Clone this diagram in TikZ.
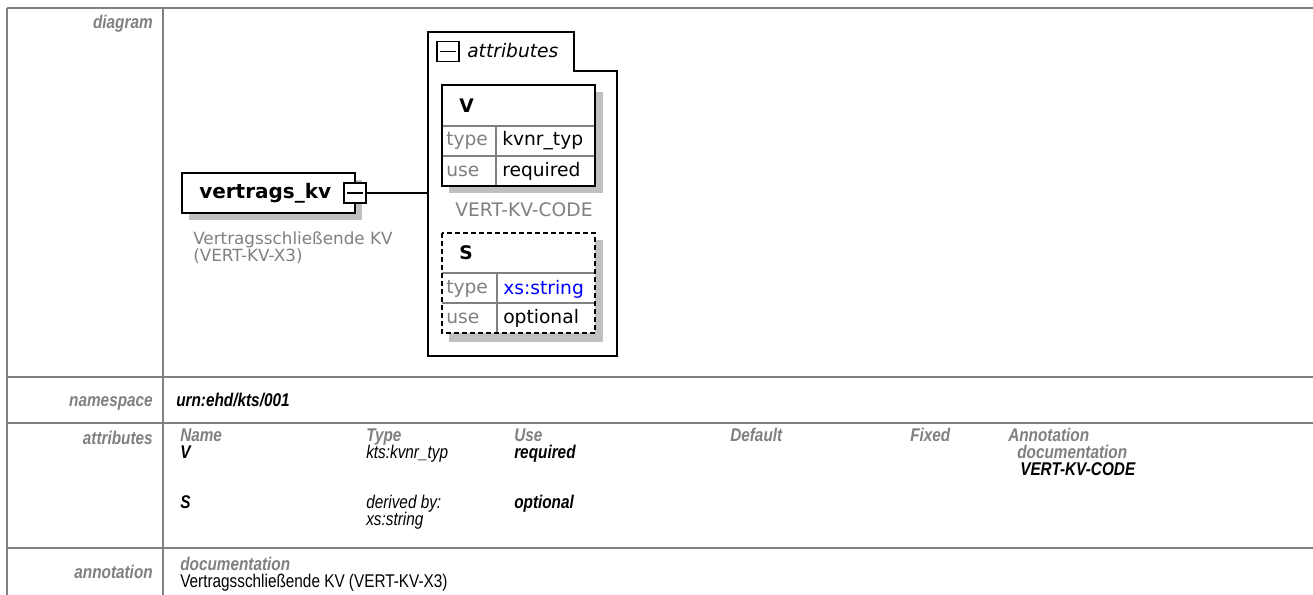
\documentclass[tikz,border=0pt]{standalone}
\usepackage{fontspec}
\setmainfont{Liberation Sans}
\newfontfamily\pixfont{DejaVu Sans}
\definecolor{rulegray}{HTML}{808080}
\definecolor{shadegray}{HTML}{C0C0C0}
\definecolor{typeblue}{HTML}{0000FF}
\newcommand\tall[1]{\scalebox{1}[1.2]{#1}}
\begin{document}
\begin{tikzpicture}[x=0.75pt,y=-0.75pt,
    rule/.style={rulegray,line width=1.5pt},
    boxline/.style={black,line width=1.4pt},
    gridline/.style={rulegray,line width=1pt},
    rowlabel/.style={anchor=base east,inner sep=0pt,text=rulegray,font=\fontsize{11.5}{13}\selectfont\bfseries\itshape},
    colhead/.style={anchor=base west,inner sep=0pt,text=rulegray,font=\fontsize{11.5}{13}\selectfont\bfseries\itshape},
    cell/.style={anchor=base west,inner sep=0pt,font=\fontsize{11.5}{13}\selectfont\itshape},
    boldcell/.style={anchor=base west,inner sep=0pt,font=\fontsize{11.5}{13}\selectfont\bfseries\itshape},
    elemname/.style={anchor=west,inner sep=0pt,font=\pixfont\fontsize{15}{17}\selectfont\bfseries},
    pix/.style={anchor=west,inner sep=0pt,font=\pixfont\fontsize{14}{16}\selectfont},
    pixgray/.style={pix,text=rulegray},
    minusbox/.style={draw,boxline,fill=white,minimum width=16.5pt,minimum height=15pt,inner sep=0pt}]
  \useasboundingbox (0,0) rectangle (1313,595);

  % table frame
  \draw[rule] (7,8) -- (1313,8);
  \draw[rule] (7,8) -- (7,595);
  \draw[rule] (163,8) -- (163,595);
  \draw[rule] (7,377) -- (1313,377) (7,423) -- (1313,423) (7,548) -- (1313,548);

  \node[rowlabel] (ldiagram) at (153,29) {\tall{diagram}};
  \node[rowlabel] (lnamespace) at (153,406) {\tall{namespace}};
  \node[rowlabel] (lattributes) at (153,444) {\tall{attributes}};
  \node[rowlabel] (lannotation) at (153,578) {\tall{annotation}};

  % element
  \fill[shadegray] (189,180) rectangle (362,220);
  \draw[boxline,fill=white] (182,173) rectangle (355,213);
  \node[elemname] (kv) at (199,193) {vertrags\_kv};
  \node[minusbox] (kvminus) at (355,193) {};
  \draw[boxline] ([xshift=3pt]kvminus.west) -- ([xshift=-3pt]kvminus.east);
  \node[pixgray,anchor=north west,align=left,font=\pixfont\fontsize{12.6}{12.75}\selectfont] (kvdoc) at (193,231)
    {Vertragsschließende KV\\(VERT-KV-X3)};

  % attribute group
  \draw[boxline] (428,32) -- (574,32) -- (574,71) -- (617,71) -- (617,356) -- (428,356) -- cycle;
  \coordinate (grp) at (428,193);
  \draw[boxline] (kvminus) -- (grp);
  \node[minusbox] (grpminus) at (448,51.5) {};
  \draw[boxline] ([xshift=3pt]grpminus.west) -- ([xshift=-3pt]grpminus.east);
  \node[pix,font=\pixfont\fontsize{14}{16}\selectfont\itshape] (grptitle) at (467,51) {attributes};

  % attribute V
  \fill[shadegray] (449,92) rectangle (603,193);
  \draw[boxline,fill=white] (442,85) rectangle (595,186);
  \draw[gridline] (442,126) -- (595,126) (442,156) -- (595,156) (496,126) -- (496,186);
  \draw[boxline] (442,85) rectangle (595,186);
  \node[pix,font=\pixfont\fontsize{14}{16}\selectfont\bfseries] (vname) at (459,106) {V};
  \node[pixgray] (vtypek) at (446,141) {type};
  \node[pix] (vtype) at (502,141) {kvnr\_typ};
  \node[pixgray] (vusek) at (446,171) {use};
  \node[pix] (vuse) at (502,171) {required};
  \node[pixgray,anchor=center] (vdoc) at (524,210) {VERT-KV-CODE};

  % attribute S
  \fill[shadegray] (449,240) rectangle (603,342);
  \fill[white] (442,233) rectangle (595,333);
  \draw[gridline] (442,273) -- (595,273) (442,303) -- (595,303) (497,273) -- (497,333);
  \draw[boxline,dash pattern=on 3.75pt off 2.25pt] (442,233) rectangle (595,333);
  \node[pix,font=\pixfont\fontsize{14}{16}\selectfont\bfseries] (sname) at (459,253) {S};
  \node[pixgray] (stypek) at (446,289) {type};
  \node[pix,text=typeblue] (stype) at (503,289) {xs:string};
  \node[pixgray] (susek) at (446,318) {use};
  \node[pix] (suse) at (503,318) {optional};

  % namespace
  \node[boldcell] (ns) at (176,406) {\tall{urn:ehd/kts/001}};

  % attributes
  \node[colhead] (hname) at (180,441) {\tall{Name}};
  \node[colhead] (htype) at (366,441) {\tall{Type}};
  \node[colhead] (huse) at (514,441) {\tall{Use}};
  \node[colhead] (hdefault) at (730,441) {\tall{Default}};
  \node[colhead] (hfixed) at (910,441) {\tall{Fixed}};
  \node[colhead] (hannot) at (1008,441) {\tall{Annotation}};
  \node[boldcell] (aname) at (180,458) {\tall{V}};
  \node[cell] (atype) at (366,458) {\tall{kts:kvnr\_typ}};
  \node[boldcell] (ause) at (514,458) {\tall{required}};
  \node[colhead] (adockey) at (1017,458) {\tall{documentation}};
  \node[boldcell] (adoc) at (1020,475) {\tall{VERT-KV-CODE}};
  \node[boldcell] (bname) at (180,508) {\tall{S}};
  \node[cell] (btype) at (366,508) {\tall{derived by:}};
  \node[cell] (btype2) at (366,525) {\tall{xs:string}};
  \node[boldcell] (buse) at (514,508) {\tall{optional}};

  % annotation
  \node[colhead] (dockey) at (180,570) {\tall{documentation}};
  \node[anchor=base west,inner sep=0pt,font=\fontsize{11.5}{13}\selectfont] (doctext) at (180,587)
    {\tall{Vertragsschließende KV (VERT-KV-X3)}};
\end{tikzpicture}
\end{document}
